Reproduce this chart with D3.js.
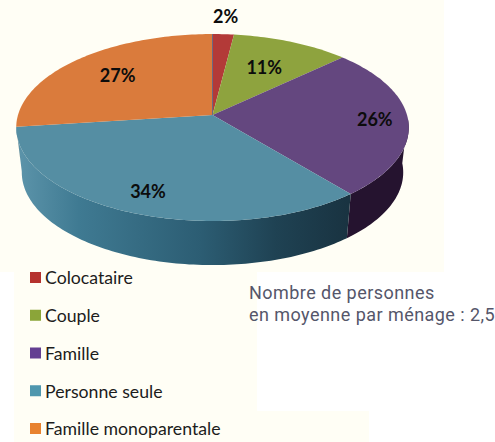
<!DOCTYPE html>
<html>
<head>
<meta charset="utf-8">
<script src="https://cdn.jsdelivr.net/npm/d3@7/dist/d3.min.js"></script>
<style>
  html, body { margin: 0; padding: 0; background: #fff; }
  svg { display: block; }
</style>
</head>
<body>
<div id="chart-area"></div>
<script>
// data
const categories = ["Colocataire", "Couple", "Famille", "Personne seule", "Famille monoparentale"];
const values = [2, 11, 26, 34, 27];
const noteLines = ["Nombre de personnes", "en moyenne par ménage : 2,5"];

// colours
const topColors = ["#b33a38", "#8ea33e", "#64477f", "#558ea3", "#da7b3c"];
const legendColors = ["#b5322e", "#8ba539", "#643f92", "#4f97ae", "#e8822f"];
const wallColors = ["#7a2523", "#5c6c26", "#25132f", "url(#wallTeal)", "#8f4f24"];

const w = 495;
const h = 442;

// pie geometry (perspective ellipse, far side is squeezed)
const cx = 212.5;
const cy = 115;
const depth = 45;
const persp = 0.134;
const topR = { x: 194.5, y: 91.8 };
const botR = { x: 189, y: 91 };
const wallFrom = 92 * Math.PI / 180;
const wallTo = 263 * Math.PI / 180;
// how far along the radius each percent label sits
const labelR = [1.26, 0.63, 0.83, 0.81, 0.69];

const svg = d3.select("#chart-area")
  .append("svg")
  .attr("width", w)
  .attr("height", h);

// cream paper behind the chart, it is cut in steps
const paper = d3.path();
paper.moveTo(0, 0);
paper.lineTo(444, 0);
paper.lineTo(444, 272);
paper.lineTo(257, 272);
paper.lineTo(257, 411);
paper.lineTo(369, 411);
paper.lineTo(369, 442);
paper.lineTo(14, 442);
paper.lineTo(14, 272);
paper.lineTo(0, 272);
paper.closePath();
svg.append("path").attr("d", paper.toString()).attr("fill", "#fffef5");

const grad = svg.append("defs").append("linearGradient")
  .attr("id", "wallTeal")
  .attr("gradientUnits", "userSpaceOnUse")
  .attr("x1", 20).attr("x2", 348)
  .attr("y1", 0).attr("y2", 0);
grad.append("stop").attr("offset", "0%").attr("stop-color", "#5b93a9");
grad.append("stop").attr("offset", "18%").attr("stop-color", "#3f7a92");
grad.append("stop").attr("offset", "55%").attr("stop-color", "#2c5d73");
grad.append("stop").attr("offset", "78%").attr("stop-color", "#1f4253");
grad.append("stop").attr("offset", "100%").attr("stop-color", "#193341");

const arcs = d3.pie().sort(null)(values);

function project(a, r, radii, dy) {
  const u = r * Math.sin(a);
  const v = r * Math.cos(a);
  const s = 1 + persp * v;
  return [cx + radii.x * u / s, cy + dy - radii.y * v / s];
}

function rim(a0, a1, radii, dy) {
  const n = Math.max(2, Math.ceil((a1 - a0) / 0.02));
  return d3.range(n + 1).map(i => project(a0 + (a1 - a0) * i / n, 1, radii, dy));
}

const line = d3.line();

// side wall
arcs.forEach((d, i) => {
  const a0 = Math.max(d.startAngle, wallFrom);
  const a1 = Math.min(d.endAngle, wallTo);
  if (a1 <= a0) return;
  const pts = rim(a0, a1, topR, 0).concat(rim(a0, a1, botR, depth).reverse());
  svg.append("path")
    .attr("d", line(pts) + "Z")
    .attr("fill", wallColors[i]);
});

// top face
svg.selectAll("path.slice")
  .data(arcs)
  .enter().append("path")
  .attr("class", "slice")
  .attr("d", d => line([[cx, cy]].concat(rim(d.startAngle, d.endAngle, topR, 0))) + "Z")
  .attr("fill", (d, i) => topColors[i]);

const seam = project(0, 1, topR, 0);
svg.append("line")
  .attr("x1", cx).attr("y1", cy)
  .attr("x2", seam[0]).attr("y2", seam[1])
  .attr("stroke", "#4f5f88")
  .attr("stroke-width", 0.8);

// percent labels
svg.selectAll("text.pct")
  .data(arcs)
  .enter().append("text")
  .attr("class", "pct")
  .attr("transform", (d, i) => {
    const p = project((d.startAngle + d.endAngle) / 2, labelR[i], topR, 0);
    return "translate(" + p[0] + "," + p[1] + ")";
  })
  .attr("text-anchor", "middle")
  .attr("dy", "0.36em")
  .attr("font-family", "Lato, sans-serif")
  .attr("font-weight", 700)
  .attr("font-size", "18px")
  .attr("fill", "#0c0c0c")
  .text(d => d.data + "%");

// legend
const legendY = d3.scalePoint()
  .domain(categories)
  .range([278, 429]);

const legend = svg.selectAll("g.legend")
  .data(categories)
  .enter().append("g")
  .attr("class", "legend")
  .attr("transform", d => "translate(30," + legendY(d) + ")");

legend.append("rect")
  .attr("x", 0).attr("y", -6)
  .attr("width", 11).attr("height", 11)
  .attr("fill", (d, i) => legendColors[i]);

legend.append("text")
  .attr("x", 15)
  .attr("y", 0)
  .attr("dy", "0.36em")
  .attr("font-family", "Lato, sans-serif")
  .attr("font-size", "17.7px")
  .attr("fill", "#1c1c1c")
  .text(d => d);

// note on the right
svg.selectAll("text.note")
  .data(noteLines)
  .enter().append("text")
  .attr("class", "note")
  .attr("x", 249)
  .attr("y", (d, i) => 299 + i * 22)
  .attr("font-family", "Roboto, sans-serif")
  .attr("font-size", "18px")
  .attr("letter-spacing", "0.45px")
  .attr("fill", "#55566a")
  .text(d => d);
</script>
</body>
</html>
